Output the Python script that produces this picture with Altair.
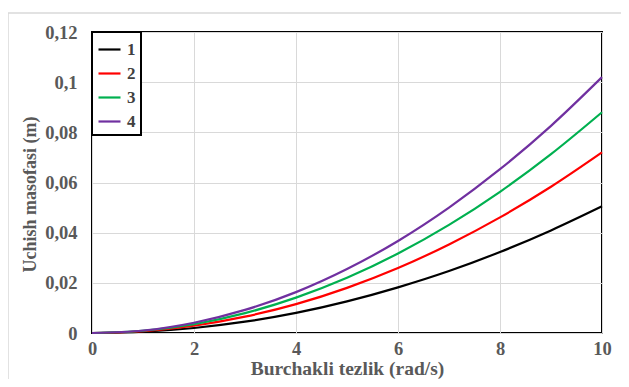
import altair as alt
import pandas as pd

x_vals = [0, 1, 2, 3, 4, 5, 6, 7, 8, 9, 10]
s1 = [0, 0.0005, 0.0020, 0.0045, 0.0080, 0.0126, 0.0182, 0.0247, 0.0323, 0.0409, 0.0505]
s2 = [0, 0.0007, 0.0029, 0.0065, 0.0115, 0.0180, 0.0259, 0.0353, 0.0461, 0.0583, 0.0720]
s3 = [0, 0.0009, 0.0035, 0.0079, 0.0141, 0.0220, 0.0317, 0.0431, 0.0563, 0.0713, 0.0880]
s4 = [0, 0.0010, 0.0041, 0.0092, 0.0163, 0.0255, 0.0367, 0.0500, 0.0653, 0.0826, 0.1020]
series_names = ["1", "2", "3", "4"]
colors = ["#000000", "#ff0000", "#00b050", "#7030a0"]

rows = []
for name, vals in zip(series_names, [s1, s2, s3, s4]):
    for xv, yv in zip(x_vals, vals):
        rows.append({"x": xv, "y": yv, "s": name})
df = pd.DataFrame(rows)

FONT = "Liberation Serif"
GRAY = "#595959"
COMMA = "replace(format(datum.value, ''), '.', ',')"

lines = alt.Chart(df).mark_line(strokeWidth=2.2, interpolate="monotone").encode(
    x=alt.X("x:Q", scale=alt.Scale(domain=[0, 10], nice=False),
            axis=alt.Axis(title="Burchakli tezlik (rad/s)", values=[0, 2, 4, 6, 8, 10],
                          labelExpr=COMMA, labelFlush=False,
                          titleFontSize=19.5, titleBaseline="alphabetic", titleY=41,
                          titleX=255, titleAlign="center")),
    y=alt.Y("y:Q", scale=alt.Scale(domain=[0, 0.12], nice=False),
            axis=alt.Axis(title="Uchish masofasi (m)", values=[0, 0.02, 0.04, 0.06, 0.08, 0.1, 0.12],
                          labelExpr=COMMA, labelFlush=False,
                          titleFontSize=18, titleAngle=-90, titleX=-62, titleY=162,
                          titleAlign="center", titleBaseline="middle")),
    color=alt.Color("s:N", scale=alt.Scale(domain=series_names, range=colors),
                    legend=alt.Legend(title=None, orient="none", legendX=0, legendY=0,
                                      symbolType="stroke", symbolStrokeWidth=2.2, symbolSize=484,
                                      labelFont=FONT, labelFontSize=17, labelFontWeight="bold",
                                      labelColor="#404040", rowPadding=3, labelOffset=5,
                                      labelExpr="datum.label + '\u00a0\u00a0\u00a0'",
                                      fillColor="white", strokeColor="black",
                                      padding=5, offset=0)),
)

frame = alt.Chart(pd.DataFrame({"a": [0]})).mark_rect(
    fill=None, stroke="#d9d9d9", strokeWidth=1.5, clip=False
).encode(x=alt.value(-84), x2=alt.value(600), y=alt.value(-19), y2=alt.value(400))

chart = alt.layer(frame, lines).properties(
    width=510, height=301,
    autosize=alt.AutoSizeParams(type="none"),
    padding={"left": 84, "top": 24, "right": 19, "bottom": 46},
).configure_view(stroke="black", strokeWidth=2).configure_axis(
    grid=True, gridColor="#d9d9d9", gridWidth=1, domain=False, ticks=False,
    labelFont=FONT, labelFontSize=18.5, labelFontWeight="bold", labelColor=GRAY,
    titleFont=FONT, titleFontWeight="bold", titleColor=GRAY,
).configure_axisX(labelPadding=6).configure_axisY(labelPadding=15).configure_legend(
    strokeWidth=2
)

chart.save("out.html", embed_options={"renderer": "svg", "actions": False})
